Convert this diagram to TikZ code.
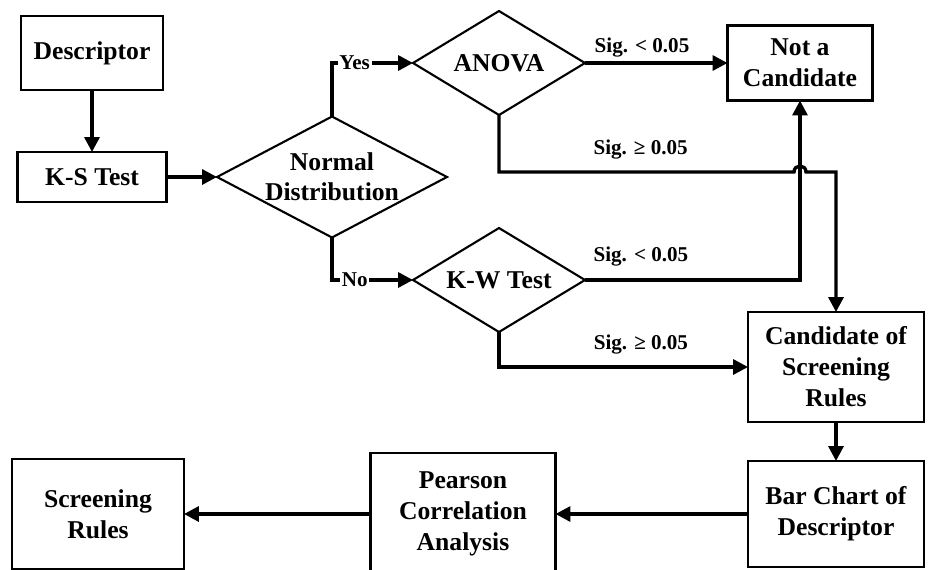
\documentclass[tikz,border=0pt]{standalone}
\usepackage{fontspec}
\setmainfont{Liberation Serif}
\usetikzlibrary{shapes.geometric,arrows.meta,positioning,calc}

\begin{document}
\begin{tikzpicture}[x=0.02cm, y=-0.02cm, outer sep=0pt,
    box/.style={draw, rectangle, line width=1.2pt, align=center, inner sep=0pt, font=\fontsize{14.6}{17.6}\selectfont\bfseries},
    decision/.style={draw, diamond, line width=1.2pt, align=center, inner sep=0pt, font=\fontsize{14.6}{17}\selectfont\bfseries},
    flow/.style={line width=1.9pt, -{Triangle[length=8.5pt, width=8.5pt]}},
    lbl/.style={font=\fontsize{12}{14}\selectfont\bfseries, inner sep=1pt}]
    \useasboundingbox (0,0) rectangle (930,569);
    \clip (0,0) rectangle (930,569);

    \node [box, minimum width=2.84cm, minimum height=1.48cm] (desc) at (92,53) {Descriptor};
    \node [box, minimum width=2.98cm, minimum height=1cm] (ks) at (92,177) {K-S Test};
    \node [decision, aspect=1.9, minimum width=4.6cm, minimum height=2.42cm] (normal) at (332,177) {Normal\\Distribution};
    \node [decision, aspect=1.65, minimum width=3.44cm, minimum height=2.08cm] (anova) at (499,63) {ANOVA};
    \node [decision, aspect=1.65, minimum width=3.44cm, minimum height=2.08cm] (kw) at (499,280) {K-W Test};
    \node [box, minimum width=2.9cm, minimum height=1.5cm] (notcand) at (800,63) {Not a\\Candidate};
    \node [box, minimum width=3.52cm, minimum height=2.2cm] (cand) at (836,367) {Candidate of\\Screening\\Rules};
    \node [box, minimum width=3.52cm, minimum height=2.12cm] (bar) at (836,514) {Bar Chart of\\Descriptor};
    \node [box, minimum width=3.7cm, minimum height=2.44cm] (pearson) at (463,514) {Pearson\\Correlation\\Analysis};
    \node [box, minimum width=3.44cm, minimum height=2.2cm] (screen) at (98,514) {Screening\\Rules};

    \coordinate (sigrow) at (0,172);
    \coordinate (cross) at (notcand.south |- sigrow);

    \draw [flow] (desc) -- (ks);
    \draw [flow] (ks) -- (normal);
    \draw [flow] (normal.north) |- node [lbl, fill=white, pos=0.64] {Yes} (anova.west);
    \draw [flow] (normal.south) |- node [lbl, fill=white, pos=0.64] {No} (kw.west);
    \draw [flow] (anova) -- node [lbl, above=2.3pt, pos=0.4] {Sig. < 0.05} (notcand);
    \draw [flow] (anova.south) |- node [lbl, above=6.4pt, pos=0.74] {Sig. ≥ 0.05} ($(cross)+(-6,0)$)
        .. controls ($(cross)+(-6,-8)$) and ($(cross)+(6,-8)$) .. ($(cross)+(6,0)$) -| (cand.north);
    \draw [flow] (kw.east) -| node [lbl, above=6.8pt, pos=0.13] {Sig. < 0.05} (notcand.south);
    \draw [flow] (kw.south) |- node [lbl, above=6.4pt, pos=0.785] {Sig. ≥ 0.05} (cand.west);
    \draw [flow] (cand) -- (bar);
    \draw [flow] (bar) -- (pearson);
    \draw [flow] (pearson) -- (screen);
\end{tikzpicture}
\end{document}
